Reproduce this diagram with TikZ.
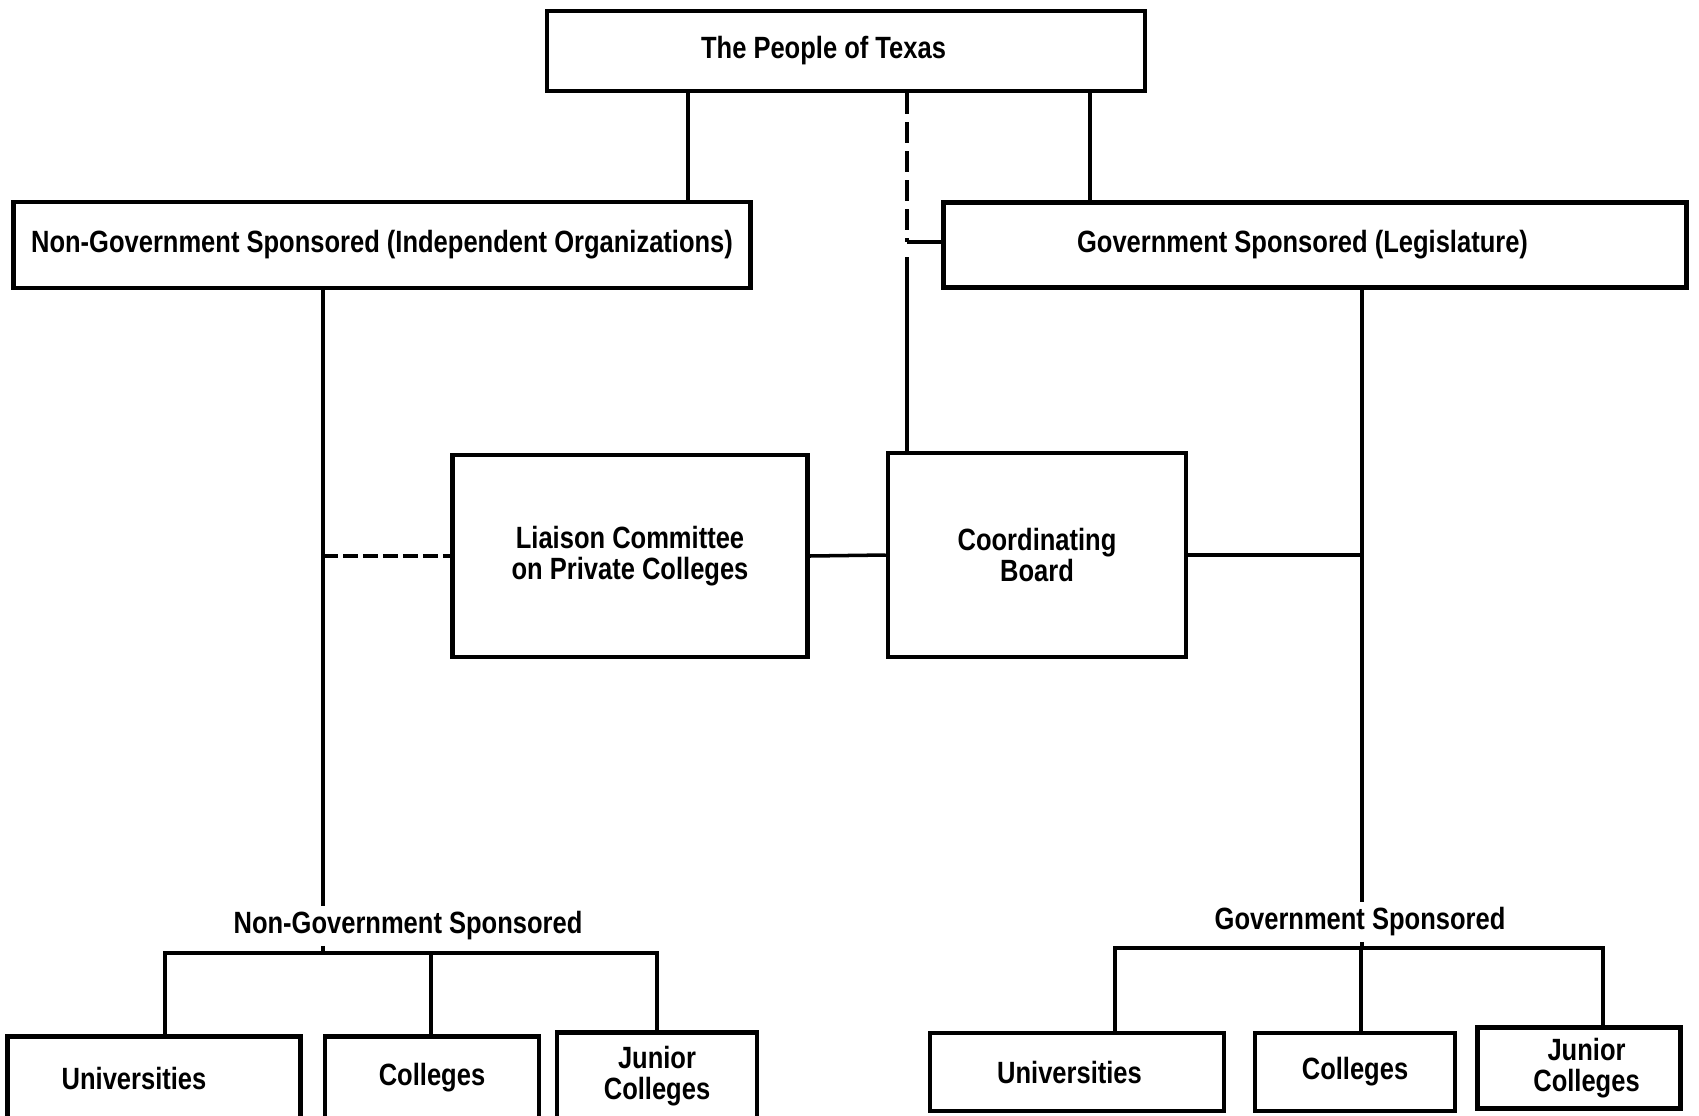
\documentclass[tikz,border=0pt]{standalone}
\usepackage{fontspec}
\setmainfont{Liberation Sans}[FakeStretch=0.83]
\tikzset{
  box/.style={draw, line width=2.6pt, align=center, inner sep=2pt,
    font=\fontsize{17.5}{17.5}\selectfont\bfseries},
  link/.style={line width=2pt},
  tie/.style={link, dash pattern=on 0.42cm off 0.16cm},
  shorttie/.style={link, dash pattern=on 0.3cm off 0.1cm},
  caption/.style={inner sep=3pt, font=\fontsize{17.5}{18}\selectfont\bfseries}
}
\begin{document}
\begin{tikzpicture}[x=0.02cm, y=-0.02cm]
    \useasboundingbox (0,0) rectangle (1699,1115);

    % Верхний уровень
    \node[box, minimum width=11.96cm, minimum height=1.6cm] (people) at (846,51) {The People of Texas\hspace*{0.9cm}};
    \node[box, minimum width=14.74cm, minimum height=1.72cm] (nongov) at (382,245) {Non-Government Sponsored (Independent Organizations)};
    \node[box, minimum width=14.86cm, minimum height=1.7cm] (gov) at (1315,245) {Government Sponsored (Legislature)\hspace*{0.5cm}};

    % Средний уровень
    \node[box, minimum width=7.1cm, minimum height=4.04cm] (liaison) at (630,556) {Liaison Committee\\on Private Colleges};
    \node[box, minimum width=5.96cm, minimum height=4.08cm] (coord) at (1037,555) {Coordinating\\Board};

    % Подписи групп
    \node[caption] (ngs) at (408,926) {Non-Government Sponsored};
    \node[caption] (gs) at (1360,922) {Government Sponsored};

    % Нижний уровень, слева
    \node[box, minimum width=5.86cm, minimum height=1.66cm] (lu) at (154,1078) {Universities\hspace*{0.8cm}};
    \node[box, minimum width=4.28cm, minimum height=1.66cm] (lc) at (432,1078) {Colleges};
    \node[box, minimum width=4cm, minimum height=1.74cm] (lj) at (657,1076) {Junior\\Colleges};

    % Нижний уровень, справа
    \node[box, minimum width=5.88cm, minimum height=1.56cm] (ru) at (1077,1072) {Universities\hspace*{0.3cm}};
    \node[box, minimum width=4cm, minimum height=1.56cm] (rc) at (1355,1072) {Colleges};
    \node[box, minimum width=4.06cm, minimum height=1.62cm] (rj) at (1579,1068) {\hspace*{0.3cm}Junior\\\hspace*{0.3cm}Colleges};

    % Опорные точки линий
    \coordinate (pl) at (688,0);
    \coordinate (pr) at (1090,0);
    \coordinate (dl) at (907,0);
    \coordinate (dstub) at (907,242);
    \coordinate (dgap) at (907,257);
    \coordinate (ngx) at (323,0);
    \coordinate (gx) at (1362,0);
    \coordinate (lb1) at (165,953);
    \coordinate (lb2) at (431,953);
    \coordinate (lb3) at (657,953);
    \coordinate (rb1) at (1115,948);
    \coordinate (rb2) at (1361,948);
    \coordinate (rb3) at (1603,948);

    % Связи сверху
    \draw[link] (people.south -| pl) -- (nongov.north -| pl);
    \draw[link] (people.south -| pr) -- (gov.north -| pr);
    \draw[tie] (people.south -| dl) -- (dstub);
    \draw[link] (dstub) -- (gov.west |- dstub);
    \draw[link] (dgap) -- (coord.north -| dgap);

    % Связи в середине
    \draw[shorttie] (liaison.west -| ngx) -- (liaison.west);
    \draw[link] (liaison.east) -- (coord.west);
    \draw[link] (coord.east) -- (coord.east -| gx);

    % Вертикали к подписям
    \draw[link] (nongov.south -| ngx) -- (ngs.north -| ngx);
    \draw[link] (ngs.south -| ngx) -- (lb1 -| ngx);
    \draw[link] (gov.south -| gx) -- (gs.north -| gx);
    \draw[link] (gs.south -| gx) -- (rb1 -| gx);

    % Скобки
    \draw[link] (lu.north -| lb1) -- (lb1) -- (lb3) -- (lj.north -| lb3);
    \draw[link] (lb2) -- (lc.north -| lb2);
    \draw[link] (ru.north -| rb1) -- (rb1) -- (rb3) -- (rj.north -| rb3);
    \draw[link] (rb2) -- (rc.north -| rb2);
\end{tikzpicture}
\end{document}
